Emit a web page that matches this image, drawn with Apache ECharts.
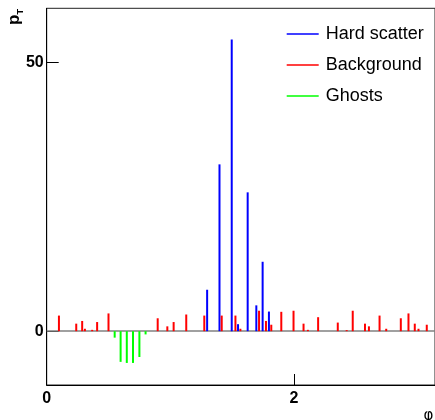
<!DOCTYPE html>
<html>
<head>
<meta charset="utf-8">
<script src="https://cdn.jsdelivr.net/npm/echarts@6/dist/echarts.min.js"></script>
<style>html,body{margin:0;padding:0;background:#fff;}#c{width:435px;height:420px;}</style>
</head>
<body>
<div id="c"></div>
<script>
var hardPhi = [1.298, 1.398, 1.497, 1.548, 1.626, 1.696, 1.747, 1.798];
var hardPt  = [7.7, 31.0, 54.2, 1.3, 25.8, 4.8, 12.9, 3.65];

var bgPhi = [0.099, 0.239, 0.287, 0.309, 0.368, 0.408, 0.500, 0.898, 0.976, 1.027, 1.129, 1.275, 1.416, 1.527, 1.567, 1.718, 1.774, 1.817, 1.898, 1.997, 2.078, 2.113, 2.196, 2.355, 2.427, 2.476, 2.575, 2.607, 2.693, 2.747, 2.865, 2.927, 2.978, 3.008, 3.075];
var bgPt  = [2.9, 1.4, 1.9, 0.45, 0.25, 1.7, 3.3, 2.4, 0.9, 1.7, 3.1, 2.9, 2.9, 2.9, 0.45, 3.8, 1.9, 1.2, 3.6, 3.8, 1.4, 0.25, 2.6, 1.6, 0.2, 3.8, 1.4, 0.9, 2.9, 0.45, 2.4, 3.3, 1.4, 0.45, 1.2];

var ghostPhi = [0.550, 0.598, 0.648, 0.698, 0.750, 0.800];
var ghostPt  = [-1.2, -5.7, -5.9, -5.9, -4.8, -0.6];

var xTicks = [0, 2];
var yTicks = [0, 50];

function pairs(xs, ys) { return xs.map(function (x, i) { return [x, ys[i]]; }); }

var chart = echarts.init(document.getElementById('c'), null, {renderer: 'canvas'});
var font = 'Liberation Sans, Arial, Helvetica, sans-serif';
chart.setOption({
  animation: false,
  backgroundColor: '#fff',
  grid: {left: 46.7, top: 8.3, right: -1.3, bottom: 35, show: true, borderColor: '#222', borderWidth: 1},
  legend: {
    orient: 'vertical', left: 281.7, top: 19, itemWidth: 32, itemHeight: 1.5, itemGap: 11,
    icon: 'rect',
    textStyle: {fontFamily: font, fontSize: 18, color: '#000', lineHeight: 20, padding: [0, 0, 0, 2]},
    data: ['Hard scatter', 'Background', 'Ghosts']
  },
  xAxis: {
    type: 'value', min: 0, max: Math.PI,
    axisLine: {onZero: false, lineStyle: {color: '#000', width: 1}},
    axisTick: {inside: true, length: 11, customValues: xTicks, lineStyle: {color: '#000'}},
    axisLabel: {customValues: xTicks, fontFamily: font, fontWeight: 'bold', fontSize: 16, color: '#000', margin: 6},
    splitLine: {show: false}
  },
  yAxis: {
    type: 'value', min: -10, max: 60,
    axisLine: {show: true, onZero: false, lineStyle: {color: '#000', width: 1}},
    axisTick: {show: true, inside: true, length: 12, customValues: yTicks, lineStyle: {color: '#000'}},
    axisLabel: {customValues: yTicks, fontFamily: font, fontWeight: 'bold', fontSize: 16, color: '#000', margin: 3},
    splitLine: {show: false}
  },
  graphic: [
    {type: 'text', x: 23, y: 25, rotation: Math.PI / 2,
     style: {text: '{p|p}{t|T}', textAlign: 'left', textVerticalAlign: 'bottom', fill: '#000',
       rich: {p: {fontFamily: font, fontWeight: 'bold', fontSize: 17, lineHeight: 17},
              t: {fontFamily: font, fontWeight: 'bold', fontSize: 9, lineHeight: 9, padding: [12, 0, 0, 0]}}}},
    {type: 'text', x: 428.5, y: 409,
     style: {text: 'φ', textAlign: 'center', fill: '#000', fontFamily: 'DejaVu Sans', fontSize: 15}}
  ],
  series: [
    {name: 'Hard scatter', type: 'bar', barWidth: 2, barGap: '-100%', itemStyle: {color: '#0000ff'},
     data: pairs(hardPhi, hardPt), z: 3,
     markLine: {silent: true, symbol: 'none', label: {show: false}, lineStyle: {color: '#808080', width: 1.5, type: 'solid'},
       data: [{yAxis: 0}], z: 1}},
    {name: 'Background', type: 'bar', barWidth: 2, barGap: '-100%', itemStyle: {color: '#ff0000'},
     data: pairs(bgPhi, bgPt), z: 3},
    {name: 'Ghosts', type: 'bar', barWidth: 2, barGap: '-100%', itemStyle: {color: '#00ff00'},
     data: pairs(ghostPhi, ghostPt), z: 3}
  ]
});
</script>
</body>
</html>
